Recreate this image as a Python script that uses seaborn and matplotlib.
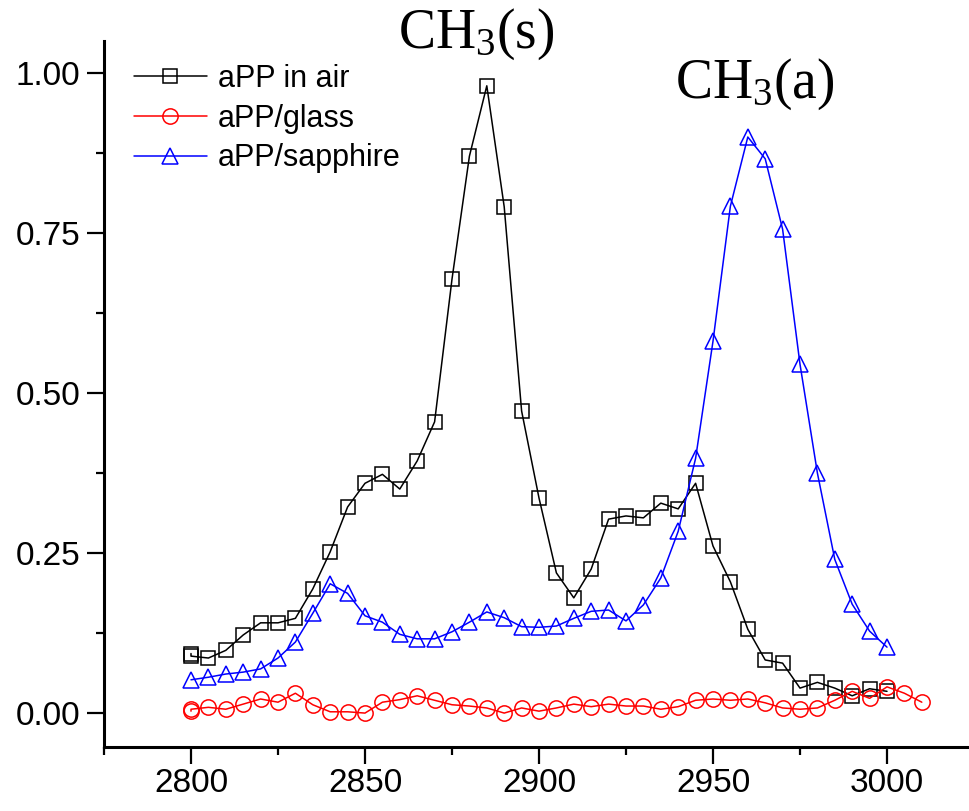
import matplotlib
matplotlib.use("Agg")
import matplotlib.pyplot as plt
import pandas as pd
import seaborn as sns
from matplotlib.ticker import MultipleLocator, FormatStrFormatter

# wavenumber (cm-1) and normalised SFG intensity
x_air = [2800, 2800, 2805, 2810, 2815, 2820, 2825, 2830, 2835, 2840, 2845,
         2850, 2855, 2860, 2865, 2870, 2875, 2880, 2885, 2890, 2895, 2900,
         2905, 2910, 2915, 2920, 2925, 2930, 2935, 2940, 2945, 2950, 2955,
         2960, 2965, 2970, 2975, 2980, 2985, 2990, 2995, 3000]
y_air = [0.093, 0.089, 0.086, 0.098, 0.122, 0.141, 0.141, 0.148, 0.194, 0.252,
         0.322, 0.359, 0.373, 0.350, 0.394, 0.455, 0.678, 0.870, 0.980, 0.791,
         0.472, 0.336, 0.219, 0.180, 0.225, 0.303, 0.308, 0.305, 0.328, 0.319,
         0.359, 0.261, 0.205, 0.131, 0.083, 0.078, 0.039, 0.048, 0.039, 0.027,
         0.038, 0.034]

x_glass = [2800, 2800, 2805, 2810, 2815, 2820, 2825, 2830, 2835, 2840, 2845,
           2850, 2855, 2860, 2865, 2870, 2875, 2880, 2885, 2890, 2895, 2900,
           2905, 2910, 2915, 2920, 2925, 2930, 2935, 2940, 2945, 2950, 2955,
           2960, 2965, 2970, 2975, 2980, 2985, 2990, 2995, 3000, 3005, 3010]
y_glass = [0.003, 0.006, 0.009, 0.006, 0.014, 0.022, 0.017, 0.031, 0.013, 0.002,
           0.002, 0.000, 0.017, 0.021, 0.027, 0.020, 0.013, 0.011, 0.008, 0.000,
           0.008, 0.003, 0.008, 0.014, 0.010, 0.014, 0.011, 0.011, 0.006, 0.010,
           0.020, 0.022, 0.020, 0.022, 0.016, 0.008, 0.006, 0.008, 0.020, 0.034,
           0.023, 0.041, 0.031, 0.017]

x_sapph = [2800, 2805, 2810, 2815, 2820, 2825, 2830, 2835, 2840, 2845,
           2850, 2855, 2860, 2865, 2870, 2875, 2880, 2885, 2890, 2895, 2900,
           2905, 2910, 2915, 2920, 2925, 2930, 2935, 2940, 2945, 2950, 2955,
           2960, 2965, 2970, 2975, 2980, 2985, 2990, 2995, 3000]
y_sapph = [0.052, 0.056, 0.061, 0.064, 0.069, 0.086, 0.111, 0.156, 0.202, 0.187,
           0.152, 0.142, 0.123, 0.116, 0.116, 0.127, 0.142, 0.158, 0.149, 0.135,
           0.134, 0.136, 0.148, 0.159, 0.161, 0.144, 0.169, 0.211, 0.284, 0.398,
           0.581, 0.792, 0.900, 0.866, 0.756, 0.545, 0.375, 0.240, 0.170, 0.128,
           0.103]

series = [
    ("aPP in air", x_air, y_air, "black", "s", 9.5),
    ("aPP/glass", x_glass, y_glass, "red", "o", 11),
    ("aPP/sapphire", x_sapph, y_sapph, "blue", "^", 11.5),
]

sns.set_style("ticks")
plt.rcParams["font.family"] = ["Liberation Sans", "DejaVu Sans"]
plt.rcParams["text.color"] = "black"
plt.rcParams["axes.edgecolor"] = "black"
plt.rcParams["xtick.color"] = "black"
plt.rcParams["ytick.color"] = "black"

fig = plt.figure(figsize=(9.7, 8.11), dpi=100)
ax = fig.add_axes([104 / 970, 64 / 811, 870 / 970, 706 / 811])

for label, xs, ys, color, marker, ms in series:
    df = pd.DataFrame({"wavenumber": xs, "intensity": ys})
    sns.lineplot(
        data=df, x="wavenumber", y="intensity", ax=ax,
        estimator=None, sort=False, color=color, linewidth=1.1,
        marker=marker, markersize=ms, markerfacecolor="none",
        markeredgecolor=color, markeredgewidth=1.1, label=label,
    )

ax.set_xlim(2775, 3025)
ax.set_ylim(-0.053, 1.05)
ax.xaxis.set_major_locator(MultipleLocator(50))
ax.xaxis.set_minor_locator(MultipleLocator(25))
ax.yaxis.set_major_locator(MultipleLocator(0.25))
ax.yaxis.set_minor_locator(MultipleLocator(0.125))
ax.yaxis.set_major_formatter(FormatStrFormatter("%.2f"))
ax.set_xlabel("")
ax.set_ylabel("")
ax.tick_params(which="major", direction="out", length=12, width=1.6,
               labelsize=24, labelcolor="black")
ax.tick_params(axis="x", which="major", pad=3)
ax.tick_params(axis="y", which="major", pad=5)
ax.tick_params(which="minor", direction="out", length=6, width=1.6)
for side in ("top", "right"):
    ax.spines[side].set_visible(False)
for side in ("left", "bottom"):
    ax.spines[side].set_linewidth(2.2)
    ax.spines[side].set_color("black")

leg = ax.legend(loc="upper left", bbox_to_anchor=(0.02, 0.985), frameon=False,
                fontsize=22, handlelength=2.4, handletextpad=0.35,
                labelspacing=0.32, borderaxespad=0)
for t in leg.get_texts():
    t.set_color("black")

serif = ["Liberation Serif", "DejaVu Serif"]
ax.text(2882, 1.04, r"CH$\mathregular{_3}$(s)", ha="center", va="baseline",
        fontsize=40, family=serif, color="black")
ax.text(2962, 0.962, r"CH$\mathregular{_3}$(a)", ha="center", va="baseline",
        fontsize=40, family=serif, color="black")

fig.savefig("out.png", dpi=100)
